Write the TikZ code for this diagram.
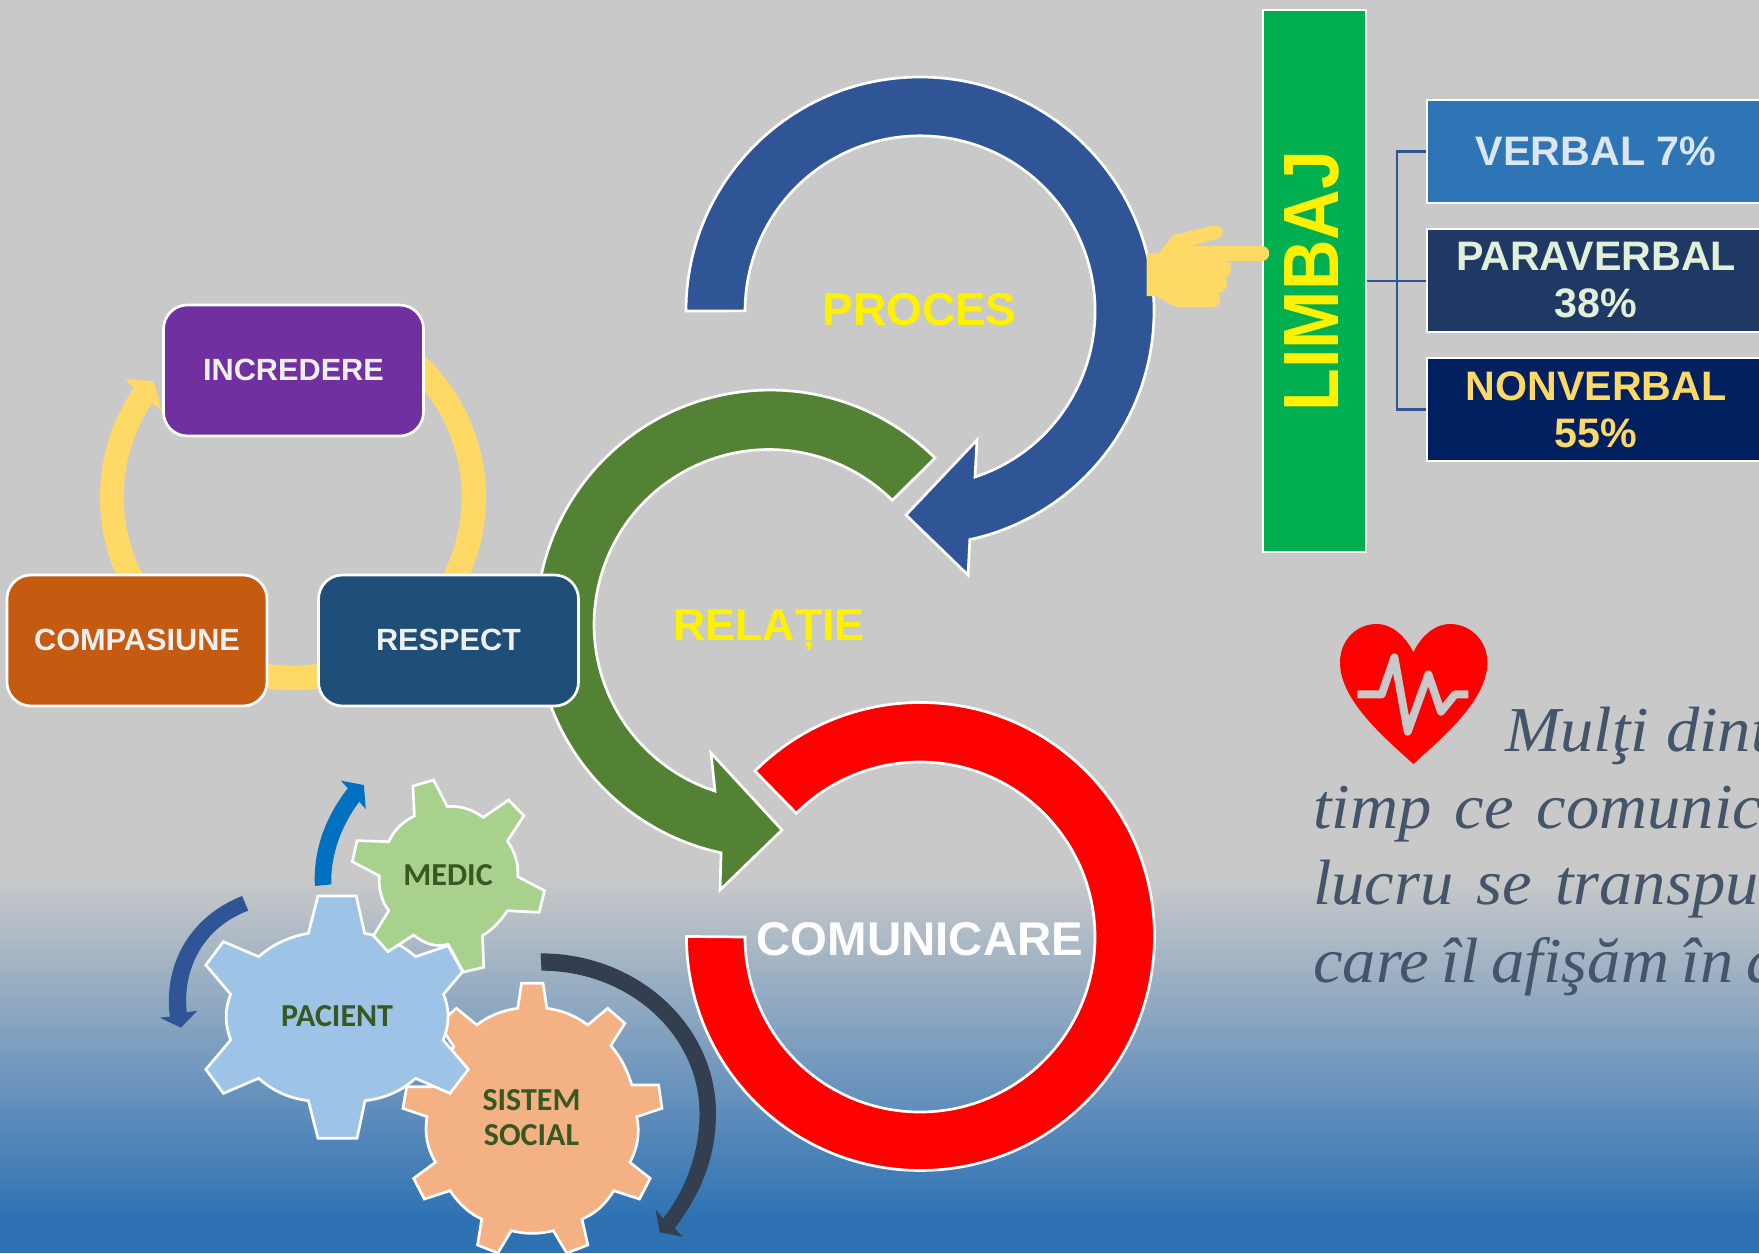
\documentclass[tikz,border=0pt]{standalone}
\usetikzlibrary{calc}
\usepackage{fontspec}
\setmainfont{Liberation Sans}
\newfontfamily\gearfont{Carlito}
\newfontfamily\quotefont[FakeStretch=1.04]{Liberation Serif}
\newcommand\fsz[2]{\fontsize{#1}{#2}\selectfont}
\newcommand\qto[3]{.. controls ($(#1)!.6667!(#2)$) and ($(#3)!.6667!(#2)$) .. (#3)}
\definecolor{bggray}{HTML}{C9C9C9}
\definecolor{bgblue}{HTML}{2E72B4}
\definecolor{archblue}{HTML}{2F5597}
\definecolor{archgreen}{HTML}{548235}
\definecolor{sunny}{HTML}{FFD966}
\definecolor{gearink}{HTML}{385723}
\definecolor{quoteink}{HTML}{44546A}
\definecolor{cpurple}{HTML}{7030A0}
\definecolor{corange}{HTML}{C55A11}
\definecolor{cnavy}{HTML}{1F4E79}
\definecolor{cgreen}{HTML}{00B050}
\definecolor{cverbal}{HTML}{2E75B6}
\definecolor{tverbal}{HTML}{DCE6F2}
\definecolor{cpara}{HTML}{1F3864}
\definecolor{tpara}{HTML}{E2F0D9}
\definecolor{cnon}{HTML}{002060}
\definecolor{gearpeach}{HTML}{F4B183}
\definecolor{gearblue}{HTML}{9DC3E6}
\definecolor{gearlime}{HTML}{A9D18E}
\definecolor{arrowblue}{HTML}{0070C0}
\definecolor{arrowslate}{HTML}{333F50}
\tikzset{
  blockarc/.style={draw=white,line width=2.7pt,line join=miter},
  title/.style={font=\bfseries\fsz{46}{52},inner sep=0pt},
  softbox/.style={draw=white,line width=2.7pt,rounded corners=24pt,minimum width=260pt,minimum height=131pt,inner sep=0pt,text=white!94!black,font=\bfseries\fsz{30.7}{36}},
  tagbox/.style={draw=white,line width=2.7pt,minimum width=338pt,minimum height=103pt,inner sep=0pt,align=center,font=\bfseries\fsz{41.2}{47}},
  gearshape/.style={draw=white,line width=2.7pt,line join=miter},
  gearlabel/.style={text=gearink,inner sep=0pt,align=center,font=\gearfont\bfseries\fsz{32}{35}},
  bracketline/.style={draw=archblue,line width=2.7pt},
  quoteline/.style={anchor=base west,inner sep=0pt,text=quoteink,font=\quotefont\itshape\fsz{64}{76}}
}
\begin{document}
\begin{tikzpicture}[x=1pt,y=1pt,yscale=-1]
\useasboundingbox (0,0) rectangle (1759,1253);
% background
\fill[bggray] (0,0) rectangle (1759,878);
\shade[top color=bggray,bottom color=bgblue] (0,877) rectangle (1759,1218);
\fill[bgblue] (0,1217) rectangle (1759,1253);
% block arcs
\path[blockarc,fill=archblue] (686,311) arc[start angle=180,end angle=437.7,radius=234]
  -- (968,575) -- (906,515) -- (977,440) -- (975,477)
  arc[start angle=431.7,end angle=180,radius=175] -- cycle;
\path[blockarc,fill=archgreen] (935,458) arc[start angle=314.8,end angle=102.1,radius=234]
  -- (720,890) -- (782,830) -- (711,753) -- (715,791)
  arc[start angle=108,end angle=314.8,radius=175] -- cycle;
\path[blockarc,fill=red] (755,771) arc[start angle=225,end angle=540,radius=234]
  -- (745,937) arc[start angle=540,end angle=225,radius=175] -- cycle;
\node[title,text=yellow] (proces) at (919.5,310) {PROCES};
\node[title,text=yellow,font=\bfseries\fsz{44.7}{52}] (relatie) at (769,630) {RELAȚIE};
\node[title,text=white,font=\bfseries\fsz{47.4}{52}] (comunicare) at (920,939) {COMUNICARE};
% cycle ring
\fill[sunny] (389.5,330) arc[start angle=-60,end angle=214.4,radius=193]
  -- (125.5,379.3) -- (153.8,381) -- (161.5,410.7) -- (152.3,402.7)
  arc[start angle=213.8,end angle=-60,radius=169] -- cycle;
\node[softbox,fill=cpurple] (incredere) at (293.5,370.5) {\raisebox{1pt}{INCREDERE}};
\node[softbox,fill=corange] (compasiune) at (137,640.5) {\raisebox{1pt}{COMPASIUNE}};
\node[softbox,fill=cnavy] (respect) at (448.5,640.5) {\raisebox{1pt}{RESPECT}};
% language
\node[draw=white,line width=2.7pt,fill=cgreen,minimum width=103pt,minimum height=542pt,inner sep=0pt] (limbaj) at (1314.5,281) {};
\node[rotate=90,text=yellow,inner sep=0pt,font=\bfseries\fsz{70}{70}] (limbajtext) at (1311.5,281) {\scalebox{1}[1.12]{LIMBAJ}};
\node[tagbox,fill=cverbal,text=tverbal] (verbal) at (1596,151.5) {VERBAL 7\%};
\node[tagbox,fill=cpara,text=tpara] (paraverbal) at (1596,280.5) {PARAVERBAL\\38\%};
\node[tagbox,fill=cnon,text=sunny] (nonverbal) at (1596,409.5) {NONVERBAL\\55\%};
\coordinate (brk) at (1397,281);
\draw[bracketline] (limbaj.east |- brk) -- (paraverbal.west |- brk);
\draw[bracketline] (verbal.west) -| (brk);
\draw[bracketline] (nonverbal.west) -| (brk);
% pointing hand
\begin{scope}[shift={(1130,200)},scale=0.33333]
\fill[sunny] (50,160) -- (85,160) -- (130,105) -- (250,77)
  .. controls (285,72) and (290,110) .. (255,118) -- (180,138) -- (395,138)
  .. controls (425,138) and (425,183) .. (395,183) -- (285,183)
  .. controls (310,188) and (312,225) .. (285,232)
  .. controls (298,245) and (290,275) .. (265,280)
  .. controls (278,295) and (268,322) .. (245,322) -- (155,322)
  .. controls (130,322) and (115,310) .. (80,288) -- (50,288) -- cycle;
\end{scope}
% heart
\begin{scope}[shift={(1300,600)},scale=0.33333]
\fill[red] (340,492) .. controls (250,410) and (120,300) .. (120,187)
  .. controls (120,120) and (170,72) .. (230,72)
  .. controls (280,72) and (320,115) .. (340,157)
  .. controls (360,115) and (400,72) .. (450,72)
  .. controls (510,72) and (562,120) .. (562,187)
  .. controls (562,300) and (430,410) .. (340,492) -- cycle;
\draw[bggray,line width=8pt,line join=round] (172,283) -- (245,283) -- (283,172) -- (323,395) -- (385,223) -- (423,335) -- (465,283) -- (505,283);
\end{scope}
% quotation
\node[quoteline] (q1) at (1505,751) {Mulţi dint};
\node[quoteline] (q2) at (1313,828) {\spaceskip=.36em timp ce comunic};
\node[quoteline] (q3) at (1313,904) {\spaceskip=.36em lucru se transpu};
\node[quoteline] (q4) at (1313,982) {\spaceskip=.2em care îl afişăm în a};
% gears
\begin{scope}[shift={(140,760)},xscale=0.3827,yscale=0.33333]
\path[gearshape,fill=gearpeach]
  (997,670) -- (1053,670) -- (1063,745) \qto{1063,745}{1123.5,754}{1170,795}
  -- (1222,745) -- (1267,790) -- (1230,857) \qto{1230,857}{1266.5,904}{1285,975}
  -- (1355,975) -- (1364,1045) -- (1298,1070) \qto{1298,1070}{1311,1141.5}{1280,1207}
  -- (1333,1255) -- (1305,1317) -- (1238,1292) \qto{1238,1292}{1203.5,1355.5}{1155,1377}
  -- (1170,1455) -- (1115,1479) -- (1080,1412) \qto{1080,1412}{1025,1428}{970,1412}
  -- (935,1479) -- (882,1455) -- (893,1377) \qto{893,1377}{848.5,1355.5}{810,1292}
  -- (743,1317) -- (715,1255) -- (772,1207) \qto{772,1207}{739,1141.5}{750,1070}
  -- (687,1045) -- (697,980) -- (765,980) \qto{765,980}{787.5,910}{820,860}
  -- (780,790) -- (827,745) -- (880,795) \qto{880,795}{926.5,754}{987,745} -- cycle;
\path[gearshape,fill=gearblue]
  (465,408) -- (565,408) -- (587,520) \qto{587,520}{666.5,535}{720,590}
  -- (805,557) -- (843,635) -- (793,703) \qto{793,703}{817.5,768.5}{792,840}
  -- (858,928) -- (810,1000) -- (720,955) \qto{720,955}{666,1011.5}{588,1022}
  -- (567,1135) -- (465,1135) -- (440,1022) \qto{440,1022}{365,1011.5}{310,955}
  -- (218,1000) -- (172,928) -- (237,840) \qto{237,840}{213,768.5}{237,703}
  -- (172,615) -- (218,545) -- (310,590) \qto{310,590}{365,535}{440,520} -- cycle;
\path[gearshape,fill=gearlime]
  (713,78) -- (767,60) -- (803,140) \qto{803,140}{850,134}{897,172}
  -- (963,120) -- (1003,167) -- (960,243) \qto{960,243}{990.5,293.5}{987,350}
  -- (1057,392) -- (1043,457) -- (960,452) \qto{960,452}{932.5,500.5}{895,527}
  -- (898,622) -- (845,636) -- (805,553) \qto{805,553}{760,567}{715,525}
  -- (648,575) -- (610,527) -- (650,452) \qto{650,452}{622.5,410.5}{625,347}
  -- (555,305) -- (567,242) -- (650,245) \qto{650,245}{670.5,193.5}{717,168} -- cycle;
\node[gearlabel] (medic) at (805,345) {MEDIC};
\node[gearlabel] (pacient) at (515,768) {PACIENT};
\node[gearlabel] (sistem) at (1023,1072) {SISTEM\\SOCIAL};
% gear arrows
\fill[arrowblue] (457,378) .. controls (452,270) and (485,170) .. (543,85)
  -- (525,62) -- (585,75) -- (590,147) -- (573,125)
  .. controls (530,190) and (497,280) .. (500,373) -- cycle;
\fill[archblue] (267,408) .. controls (140,465) and (60,600) .. (78,770)
  -- (52,773) -- (107,803) -- (150,752) -- (122,757)
  .. controls (110,620) and (170,500) .. (283,452) -- cycle;
\fill[arrowslate] (1047,580) .. controls (1300,580) and (1505,795) .. (1505,1060)
  .. controls (1505,1200) and (1460,1310) .. (1397,1405)
  -- (1418,1430) -- (1358,1417) -- (1347,1348) -- (1367,1375)
  .. controls (1425,1290) and (1462,1180) .. (1462,1060)
  .. controls (1462,824) and (1277,632) .. (1049,632) -- cycle;
\end{scope}
\end{tikzpicture}
\end{document}
